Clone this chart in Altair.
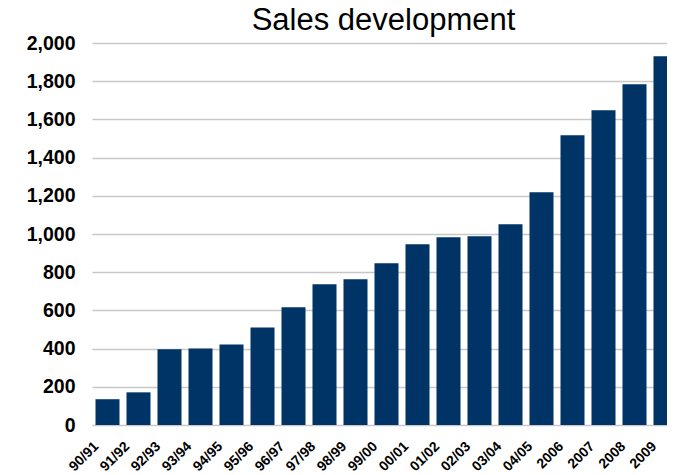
import altair as alt
import pandas as pd

periods = ["90/91", "91/92", "92/93", "93/94", "94/95", "95/96", "96/97", "97/98",
           "98/99", "99/00", "00/01", "01/02", "02/03", "03/04", "04/05",
           "2006", "2007", "2008", "2009"]
sales = [135, 171, 396, 401, 422, 511, 616, 737, 763, 847, 946, 983, 988, 1051,
         1218, 1517, 1648, 1784, 1930]
y_ticks = list(range(0, 2001, 200))

df = pd.DataFrame({"period": periods, "sales": sales})

FONT = "Liberation Sans"

chart = alt.Chart(df).mark_bar(color="#003366").encode(
    x=alt.X("period:N", sort=periods,
            scale=alt.Scale(range=[0, 589], paddingInner=0.2258, paddingOuter=0.1129),
            axis=alt.Axis(title=None, labelAngle=-45, labelAlign="right",
                          labelBaseline="middle", labelOffset=-11, labelPadding=19,
                          ticks=False, tickSize=0, domain=False,
                          labelFont=FONT, labelFontSize=14, labelFontWeight="bold",
                          labelColor="#000000")),
    y=alt.Y("sales:Q", scale=alt.Scale(domain=[0, 2000], nice=False),
            axis=alt.Axis(title=None, values=y_ticks, format=",.0f", ticks=False, tickSize=0,
                          domain=False, labelPadding=17, labelFont=FONT,
                          labelFontSize=19.5, labelFontWeight="bold", labelColor="#000000",
                          gridColor="#c8c8c8", gridWidth=1.5)),
).properties(
    width=575,
    height=382,
    title=alt.TitleParams("Sales development", font=FONT, fontSize=31,
                          fontWeight="normal", color="#000000", anchor="middle",
                          frame="group", offset=-4, dx=4),
    autosize=alt.AutoSizeParams(type="none"),
    padding={"left": 84, "top": 35, "right": 0, "bottom": 50},
).configure_view(stroke=None)

chart.save("out.html", embed_options={"renderer": "svg", "actions": False})
